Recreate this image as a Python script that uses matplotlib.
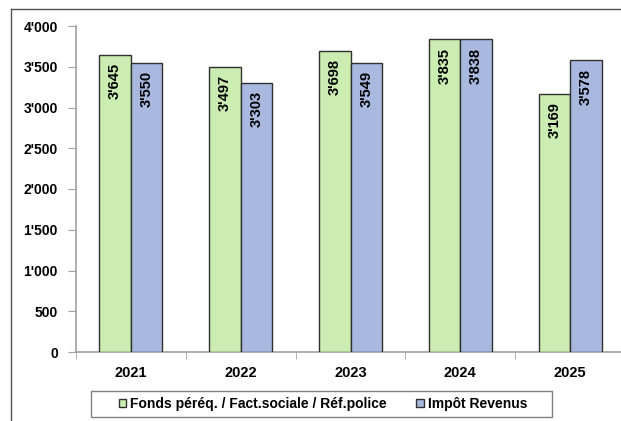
import matplotlib
matplotlib.use("Agg")
import matplotlib.pyplot as plt
from matplotlib.lines import Line2D
from matplotlib.patches import Rectangle
from matplotlib.ticker import FuncFormatter, FixedLocator
import numpy as np

plt.rcParams['font.family'] = ['Liberation Sans', 'DejaVu Sans']
plt.rcParams['font.weight'] = 'bold'

years = ["2021", "2022", "2023", "2024", "2025"]
fonds = [3645, 3497, 3698, 3835, 3169]
impot = [3550, 3303, 3549, 3838, 3578]
series_names = ["Fonds péréq. / Fact.sociale / Réf.police", "Impôt Revenus"]

GREEN = "#CCEDB1"
BLUE = "#A9B8DE"
GRAY = "#A0A0A0"
W, H = 621, 421


def fmt(v):
    return f"{int(v):,}".replace(",", "'")


fig = plt.figure(figsize=(W / 100, H / 100), dpi=100)
ax = fig.add_axes([76 / W, 1 - 352 / H, 549 / W, 326 / H])

x = np.arange(len(years))
w = 0.287
b1 = ax.bar(x - w / 2, fonds, w, color=GREEN, edgecolor="#303030", linewidth=1.0,
            label=series_names[0], zorder=3)
b2 = ax.bar(x + w / 2, impot, w, color=BLUE, edgecolor="#303030", linewidth=1.0,
            label=series_names[1], zorder=3)

for bars, vals in ((b1, fonds), (b2, impot)):
    for rect, v in zip(bars, vals):
        ax.annotate(fmt(v), (rect.get_x() + rect.get_width() / 2, v),
                    xytext=(0, -6), textcoords="offset points",
                    rotation=90, ha="center", va="top",
                    fontsize=10.5, fontweight="bold", zorder=4)

ax.set_xlim(-0.5, len(years) - 0.5)
ax.set_ylim(0, 4000)
ax.set_yticks(np.arange(0, 4001, 500))
ax.yaxis.set_major_formatter(FuncFormatter(lambda v, p: fmt(v)))
ax.set_xticks(x)
ax.set_xticklabels(years)
ax.xaxis.set_minor_locator(FixedLocator(np.arange(-0.5, len(years), 1.0)))

for s in ("top", "right"):
    ax.spines[s].set_visible(False)
for s in ("left", "bottom"):
    ax.spines[s].set_color(GRAY)
    ax.spines[s].set_linewidth(1.2)

ax.tick_params(axis="y", direction="out", length=6, color=GRAY, labelsize=10, pad=7)
ax.tick_params(axis="x", which="major", length=0, labelsize=10.5, pad=10)
ax.tick_params(axis="x", which="minor", direction="out", length=5, color=GRAY)
for lab in ax.get_xticklabels() + ax.get_yticklabels():
    lab.set_fontweight("bold")

# legend without its own frame, frame drawn separately
leg = fig.legend(loc="center", bbox_to_anchor=(323 / W, 1 - 404 / H),
                 ncol=2, frameon=False, fontsize=10,
                 handlelength=0.55, handleheight=0.55, handletextpad=0.3,
                 columnspacing=2.1, borderpad=0.2)
for t in leg.get_texts():
    t.set_fontweight("bold")
fig.add_artist(Rectangle((90.5 / W, 1 - 417 / H), 461 / W, 26 / H,
                         transform=fig.transFigure, fill=False,
                         edgecolor="#808080", lw=1.0))

# outer chart frame
fig.add_artist(Line2D([10.5 / W, 1.0], [1 - 9 / H, 1 - 9 / H],
                      transform=fig.transFigure, color="#505050", lw=1.0))
fig.add_artist(Line2D([10.5 / W, 10.5 / W], [0, 1 - 9 / H],
                      transform=fig.transFigure, color="#505050", lw=1.0))

fig.savefig("out.png", dpi=100)
